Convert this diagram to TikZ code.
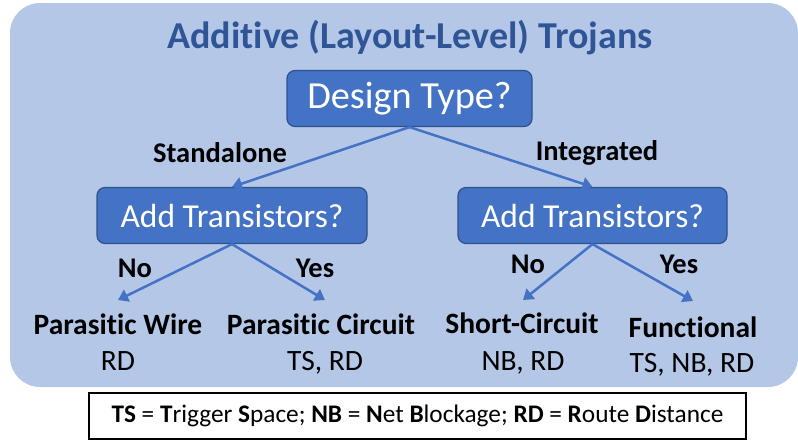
\documentclass[tikz,border=0pt]{standalone}
\usepackage{fontspec}
\setmainfont{Carlito}[Ligatures=CommonOff]
\usetikzlibrary{arrows.meta, positioning}

\definecolor{panelblue}{HTML}{B4C7E7}
\definecolor{boxblue}{HTML}{4472C4}
\definecolor{boxedge}{HTML}{2F528F}
\definecolor{titleblue}{HTML}{2F5597}

\begin{document}
\begin{tikzpicture}[
  x=1pt, y=-1pt,
  >={Triangle[length=10pt,width=13pt]},
  qbox/.style={draw=boxedge, line width=1.2pt, fill=boxblue, rounded corners=8pt,
               text=white, minimum height=56pt, inner sep=0pt},
  branch/.style={->, draw=boxblue, line width=2.5pt},
  choice/.style={font=\bfseries\fontsize{28.5}{32}\selectfont, anchor=base},
  leaf/.style={font=\bfseries\fontsize{29.5}{33}\selectfont, anchor=base},
  cost/.style={font=\fontsize{29.5}{33}\selectfont, anchor=base},
]
\useasboundingbox (0,0) rectangle (798,440);

%% ── Fond ────────────────────────────────────────────────────────────────
\node[fill=panelblue, rounded corners=30pt, minimum width=788pt,
      minimum height=384pt, inner sep=0pt] (panel) at (404,195) {};

%% ── Titre ───────────────────────────────────────────────────────────────
\node[font=\bfseries\fontsize{38}{42}\selectfont, text=titleblue, anchor=base]
  (title) at (410,48) {Additive (Layout-Level) Trojans};

%% ── Questions ───────────────────────────────────────────────────────────
\node[qbox, minimum width=245pt, font=\fontsize{38.3}{42}\selectfont]
  (design) at (409.5,98.5) {Design Type?};
\node[qbox, minimum width=270pt, font=\fontsize{33.5}{37}\selectfont]
  (addL) at (232,215.5) {Add Transistors?};
\node[qbox, minimum width=269pt, font=\fontsize{33.5}{37}\selectfont]
  (addR) at (592.5,215.5) {Add Transistors?};

%% ── Feuilles ────────────────────────────────────────────────────────────
\node[leaf] (wire)  at (118,334) {Parasitic Wire};
\node[cost] (wireC) at (118,370) {RD};
\node[leaf] (circ)  at (321,334) {Parasitic Circuit};
\node[cost] (circC) at (325,370) {TS, RD};
\node[leaf] (short) at (522,333) {Short-Circuit};
\node[cost] (shortC) at (523,370) {NB, RD};
\node[leaf] (func)  at (693,337) {Functional};
\node[cost] (funcC) at (692,372) {TS, NB, RD};

\coordinate (wireT)  at (118,300);
\coordinate (circT)  at (325,300);
\coordinate (shortT) at (523,300);
\coordinate (funcT)  at (693,301);

%% ── Flèches ─────────────────────────────────────────────────────────────
\draw[branch] (design.south) -- (addL.north);
\draw[branch] (design.south) -- (addR.north);
\draw[branch] (addL.south) -- (wireT);
\draw[branch] (addL.south) -- (circT);
\draw[branch] (addR.south) -- (shortT);
\draw[branch] (addR.south) -- (funcT);

%% ── Étiquettes ──────────────────────────────────────────────────────────
\node[choice] (stand) at (220,162) {Standalone};
\node[choice] (integ) at (597,160) {Integrated};
\node[choice] (noL)  at (135,277) {No};
\node[choice] (yesL) at (315,277) {Yes};
\node[choice] (noR)  at (528,273) {No};
\node[choice] (yesR) at (679,273) {Yes};

%% ── Légende ─────────────────────────────────────────────────────────────
\node[draw=black, line width=1.5pt, fill=white, minimum width=657pt,
      minimum height=46pt, inner sep=0pt, font=\fontsize{25.3}{29}\selectfont]
  (legend) at (417.5,416)
  {\textbf{TS} = \textbf{T}rigger \textbf{S}pace; \textbf{NB} = \textbf{N}et
   \textbf{B}lockage; \textbf{RD} = \textbf{R}oute \textbf{D}istance};

\end{tikzpicture}
\end{document}
